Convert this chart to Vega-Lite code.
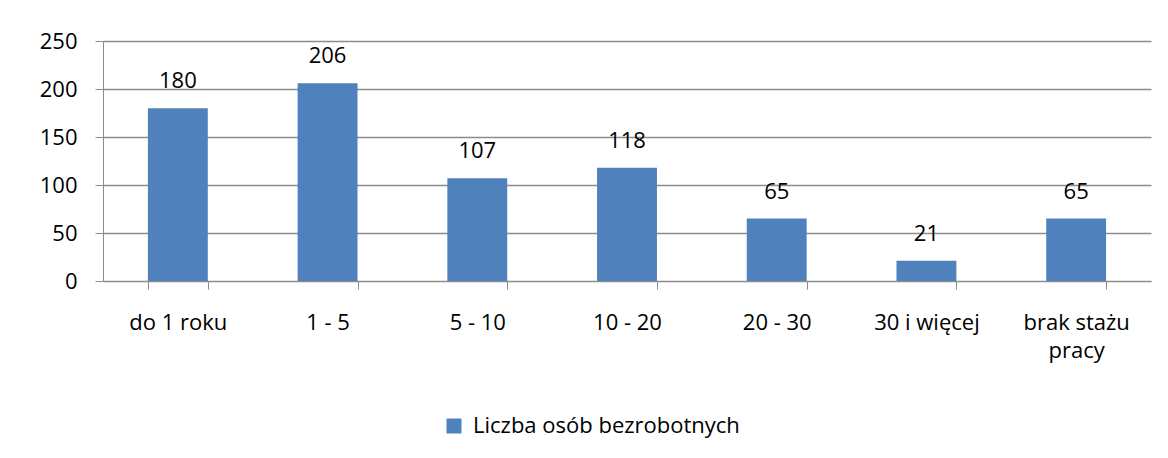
{
  "$schema": "https://vega.github.io/schema/vega-lite/v6.json",
  "width": 1048,
  "height": 240,
  "autosize": "none",
  "padding": {"left": 103, "top": 41, "right": 17, "bottom": 177},
  "background": "white",
  "config": {
    "view": {"stroke": null},
    "font": "Open Sans",
    "text": {"font": "Open Sans"}
  },
  "data": {
    "values": [
      {"kategoria": "do 1 roku", "liczba": 180},
      {"kategoria": "1 - 5", "liczba": 206},
      {"kategoria": "5 - 10", "liczba": 107},
      {"kategoria": "10 - 20", "liczba": 118},
      {"kategoria": "20 - 30", "liczba": 65},
      {"kategoria": "30 i więcej", "liczba": 21},
      {"kategoria": "brak stażu pracy", "liczba": 65}
    ]
  },
  "encoding": {
    "x": {
      "field": "kategoria",
      "type": "nominal",
      "sort": null,
      "scale": {"paddingInner": 0.6, "paddingOuter": 0.3},
      "axis": {
        "title": null,
        "labelAngle": 0,
        "labelFont": "Open Sans",
        "labelFontSize": 22,
        "labelColor": "#000000",
        "labelBaseline": "alphabetic",
        "labelPadding": 40,
        "labelLineHeight": 28,
        "labelExpr": "datum.value == 'brak stażu pracy' ? ['brak stażu', 'pracy'] : datum.value",
        "tickBand": "extent",
        "tickSize": 8,
        "tickColor": "#8c8c8c",
        "domainColor": "#8c8c8c",
        "grid": false
      }
    },
    "y": {
      "field": "liczba",
      "type": "quantitative",
      "scale": {"domain": [0, 250], "nice": false},
      "axis": {
        "title": null,
        "values": [0, 50, 100, 150, 200, 250],
        "labelFont": "Open Sans",
        "labelFontSize": 22,
        "labelColor": "#000000",
        "labelPadding": 18,
        "tickSize": 8,
        "tickColor": "#8c8c8c",
        "domainColor": "#8c8c8c",
        "gridColor": "#8c8c8c",
        "gridOpacity": 1,
        "gridWidth": 1.5
      }
    }
  },
  "layer": [
    {
      "mark": {"type": "bar"},
      "encoding": {
        "color": {
          "datum": "Liczba osób bezrobotnych",
          "scale": {"range": ["#4F81BD"]},
          "legend": {
            "title": null,
            "orient": "none",
            "legendX": 340,
            "legendY": 374,
            "symbolType": "square",
            "symbolSize": 225,
            "symbolStrokeWidth": 0,
            "labelFont": "Open Sans",
            "labelFontSize": 22,
            "labelColor": "#000000",
            "labelOffset": 8,
            "labelLimit": 500
          }
        }
      }
    },
    {
      "mark": {"type": "text", "baseline": "alphabetic", "dy": -20, "fontSize": 22, "font": "Open Sans", "color": "#000000"},
      "encoding": {
        "text": {"field": "liczba", "type": "quantitative"}
      }
    }
  ]
}
